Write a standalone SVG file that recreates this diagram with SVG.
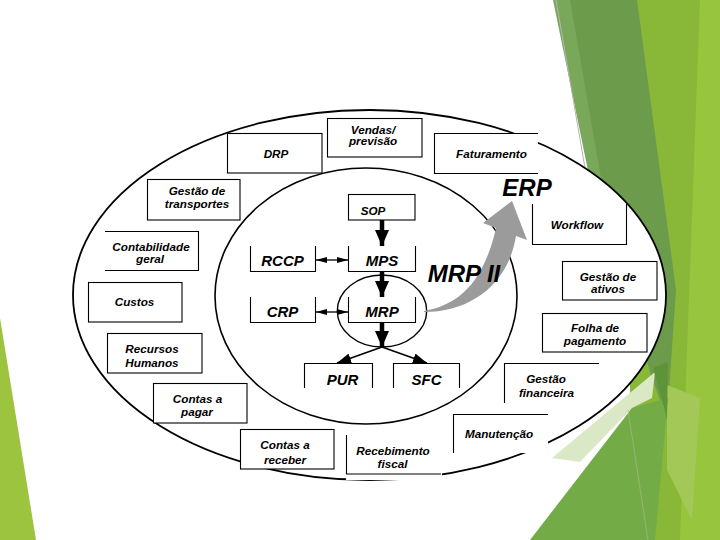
<svg xmlns="http://www.w3.org/2000/svg" width="720" height="540" viewBox="0 0 720 540">
<defs>
<style>
.bf{fill:#fff;stroke:none}
.bs{fill:none;stroke:#000;stroke-width:1.1}
.t{font-family:"Liberation Sans",Arial,sans-serif;font-weight:bold;font-style:italic;font-size:11.7px;fill:#000;text-anchor:middle}
.c{font-size:15px}
.big{font-size:24px}
.ln{fill:none;stroke:#000}
</style>
<marker id="hb" markerUnits="userSpaceOnUse" viewBox="0 0 16 14" markerWidth="16" markerHeight="14" refX="16" refY="7" orient="auto"><path d="M0,0 L16,7 L0,14 Z" fill="#000"/></marker>
<marker id="hm" markerUnits="userSpaceOnUse" viewBox="0 0 14 10" markerWidth="14" markerHeight="10" refX="14" refY="5" orient="auto"><path d="M0,0 L14,5 L0,10 Z" fill="#000"/></marker>
<marker id="hs" markerUnits="userSpaceOnUse" viewBox="0 0 11 6" markerWidth="11" markerHeight="6" refX="11" refY="3" orient="auto-start-reverse"><path d="M0,0 L11,3 L0,6 Z" fill="#000"/></marker>
</defs>

<g id="background">
<rect x="0" y="0" width="720" height="540" fill="#fff"/>
<polygon points="0,318 0,540 36,540" fill="#9cc43f"/>
<rect x="630" y="0" width="90" height="540" fill="#89b738"/>
<polygon points="700,0 720,0 720,540 680,540" fill="#97c53e"/>
<polygon points="555,0 637,0 676,290 667,420 650,372" fill="#6c9c4b"/>
<polygon points="553,0 570,0 603,190 592,190" fill="#79a85b"/>
<line x1="556" y1="0" x2="585" y2="168" stroke="#b5b5b5" stroke-width="1"/>
<polygon points="667,385 700,398 692,520 667,470" fill="#a3c858"/>
<polygon points="530,540 632,408 668,398 655,540" fill="#73ac47"/>
<polygon points="552,458 655,372 652,398 632,408 580,462" fill="#dbe8c5"/>
<polygon points="653,368 668,362 667,418" fill="#5c9437"/>
<line x1="628" y1="410" x2="648" y2="540" stroke="#9db88a" stroke-width="0.8"/>
</g>

<g id="rings">
<ellipse cx="369.5" cy="295" rx="296.5" ry="185" fill="#fff" stroke="#000" stroke-width="1.8"/>
<ellipse cx="366" cy="296" rx="151" ry="128" fill="none" stroke="#000" stroke-width="1.6"/>
<ellipse cx="382" cy="311" rx="44.7" ry="36" fill="none" stroke="#000" stroke-width="1.4"/>
</g>

<g id="node-drp"><rect class="bf" x="227" y="133" width="95" height="40"/><rect class="bs" x="227.5" y="133.5" width="94.5" height="39.5"/><text class="t" x="276" y="158">DRP</text></g>
<g id="node-vendas"><rect class="bf" x="327" y="118" width="95" height="39"/><rect class="bs" x="327.5" y="118.5" width="94.5" height="38.5"/><text class="t" x="373" y="133.5">Vendas/</text><text class="t" x="373" y="145">previsão</text></g>
<g id="node-faturamento"><rect class="bf" x="434" y="133" width="104" height="40"/><path class="bs" d="M538,133.5 H434.5 V173.5 H538"/><text class="t" x="491.5" y="158.3">Faturamento</text></g>
<g id="node-transportes"><rect class="bf" x="147" y="179" width="93" height="41"/><rect class="bs" x="147.5" y="179.5" width="92.5" height="40.5"/><text class="t" x="197" y="195">Gestão de</text><text class="t" x="197" y="207.5">transportes</text></g>
<g id="node-contabilidade"><rect class="bf" x="105" y="231" width="93" height="39"/><path class="bs" d="M105,231.5 H198.5 V270.5 H105"/><text class="t" x="151" y="250.5">Contabilidade</text><text class="t" x="150" y="262.7">geral</text></g>
<g id="node-custos"><rect class="bf" x="88" y="282" width="94" height="40"/><rect class="bs" x="88.5" y="282.5" width="93.5" height="39.5"/><text class="t" x="134.5" y="306">Custos</text></g>
<g id="node-rh"><rect class="bf" x="107" y="333" width="95" height="40"/><rect class="bs" x="107.5" y="333.5" width="94.5" height="39.5"/><text class="t" x="152" y="352.7">Recursos</text><text class="t" x="152" y="366.7">Humanos</text></g>
<g id="node-pagar"><rect class="bf" x="153" y="383" width="94" height="40"/><rect class="bs" x="153.5" y="383.5" width="93.5" height="39.5"/><text class="t" x="197.5" y="402.7">Contas a</text><text class="t" x="197" y="416">pagar</text></g>
<g id="node-receber"><rect class="bf" x="240" y="429" width="94" height="40"/><rect class="bs" x="240.5" y="429.5" width="93.5" height="39.5"/><text class="t" x="285" y="449.3">Contas a</text><text class="t" x="285" y="464">receber</text></g>
<g id="node-recebimento"><rect class="bf" x="346" y="435" width="96" height="45"/><path class="bs" d="M346.5,435 V474 H441"/><text class="t" x="393" y="455">Recebimento</text><text class="t" x="392.5" y="468.3">fiscal</text></g>
<g id="node-manutencao"><rect class="bf" x="453" y="414" width="95" height="39"/><path class="bs" d="M453.5,453 V414.5 H548"/><text class="t" x="499" y="438">Manutenção</text></g>
<g id="node-financeira"><rect class="bf" x="504" y="363" width="95" height="40"/><path class="bs" d="M504.5,403 V363.5 H599"/><text class="t" x="546" y="382.7">Gestão</text><text class="t" x="546.5" y="396.7">financeira</text></g>
<g id="node-folha"><rect class="bf" x="542" y="313" width="105" height="39"/><rect class="bs" x="542.5" y="313.5" width="104.5" height="38.5"/><text class="t" x="595" y="331.7">Folha de</text><text class="t" x="595" y="344.5">pagamento</text></g>
<g id="node-ativos"><rect class="bf" x="562" y="261" width="95" height="39"/><rect class="bs" x="562.5" y="261.5" width="94.5" height="38.5"/><text class="t" x="608" y="280.7">Gestão de</text><text class="t" x="608" y="293.3">ativos</text></g>
<g id="node-workflow"><rect class="bf" x="532" y="204" width="94" height="40"/><path class="bs" d="M532.5,204 V244.5 H626.5 V204"/><text class="t" x="577" y="229.3">Workflow</text></g>

<g id="node-sop"><rect class="bf" x="348" y="194" width="67" height="26"/><rect class="bs" x="348.5" y="194.5" width="66.5" height="25.5"/><text class="t" x="373" y="215">SOP</text></g>
<g id="node-mps"><rect class="bf" x="348" y="246" width="67" height="25"/><path class="bs" d="M348.5,246 V271.5 H415.5 V246"/><text class="t c" x="382" y="266">MPS</text></g>
<g id="node-rccp"><rect class="bf" x="250" y="246" width="65" height="25"/><path class="bs" d="M250.5,246 V271.5 H315.5 V246"/><text class="t c" x="282.5" y="266">RCCP</text></g>
<g id="node-crp"><rect class="bf" x="250" y="297" width="65" height="25"/><path class="bs" d="M250.5,297 V322.5 H315.5 V297"/><text class="t c" x="282.5" y="317">CRP</text></g>
<g id="node-mrp"><rect class="bf" x="348" y="297" width="67" height="25"/><path class="bs" d="M348.5,297 V322.5 H415.5 V297"/><text class="t c" x="382" y="317">MRP</text></g>
<g id="node-pur"><rect class="bf" x="304" y="363" width="68" height="25"/><path class="bs" d="M304.5,388 V363.5 H372.5 V388"/><text class="t c" x="342.5" y="385">PUR</text></g>
<g id="node-sfc"><rect class="bf" x="393" y="363" width="66" height="25"/><path class="bs" d="M393.5,388 V363.5 H459.5 V388"/><text class="t c" x="426.5" y="385">SFC</text></g>

<g id="connectors">
<line class="ln" x1="382" y1="220" x2="382" y2="246" stroke-width="4.5" marker-end="url(#hb)"/>
<line class="ln" x1="382" y1="271" x2="382" y2="297" stroke-width="4.5" marker-end="url(#hb)"/>
<line class="ln" x1="382" y1="322" x2="382" y2="347" stroke-width="4.5" marker-end="url(#hb)"/>
<line class="ln" x1="382" y1="347" x2="337" y2="363" stroke-width="1.6" marker-end="url(#hm)"/>
<line class="ln" x1="382" y1="347" x2="427" y2="363" stroke-width="1.6" marker-end="url(#hm)"/>
<line class="ln" x1="316" y1="260" x2="348" y2="260" stroke-width="1.3" marker-start="url(#hs)" marker-end="url(#hs)"/>
<line class="ln" x1="316" y1="312" x2="348" y2="312" stroke-width="1.3" marker-start="url(#hs)" marker-end="url(#hs)"/>
<path id="mrp2-erp" d="M424,311 C452,306 482,290 496,228 L483,223 L512,201 L527,240 L516,236 C508,285 470,312 424,312 Z" fill="#9b9b9b"/>
</g>

<g id="labels">
<text class="t big" x="464" y="282">MRP II</text>
<text class="t big" x="527" y="195.5">ERP</text>
</g>
</svg>
